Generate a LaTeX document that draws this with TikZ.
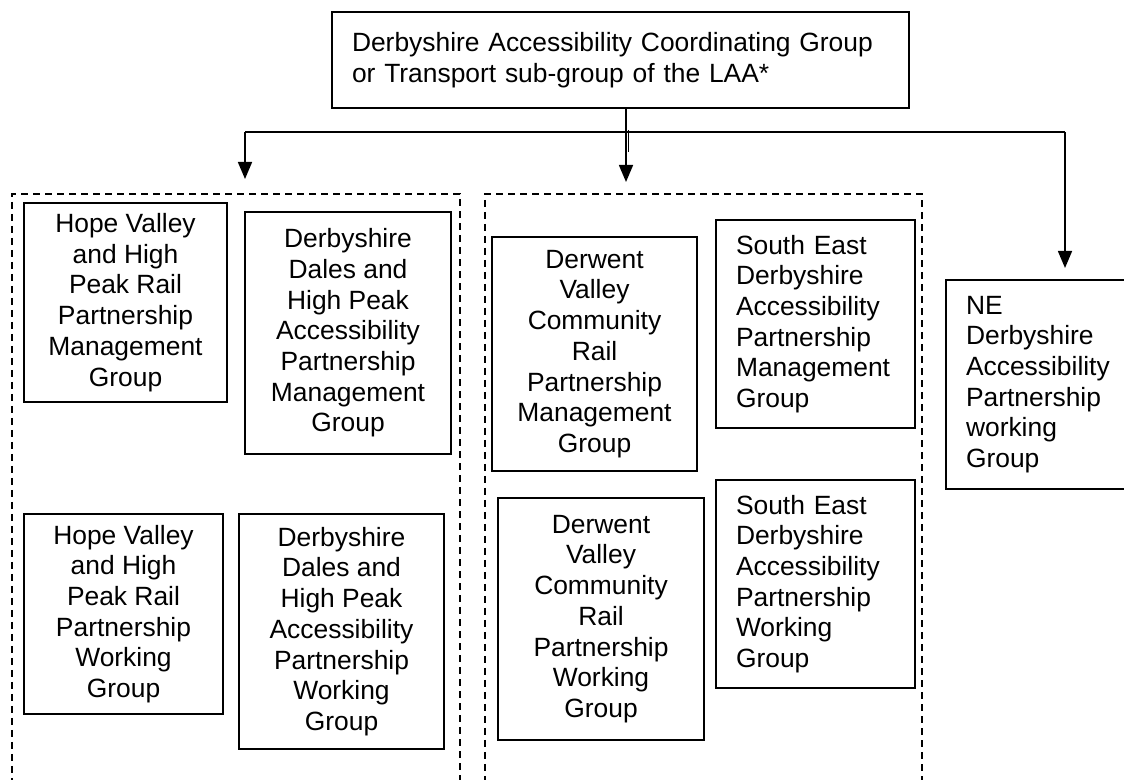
\documentclass[tikz,border=0pt]{standalone}
\usepackage{fontspec}
\setmainfont{Liberation Sans}
\usetikzlibrary{arrows.meta}

\tikzset{
  grp/.style 2 args={draw, dash pattern=on 3.6pt off 2.4pt, line width=0.9pt,
    anchor=north west, inner sep=0pt,
    minimum width=#1*0.5pt, minimum height=#2*0.5pt},
  unit/.style 2 args={draw, line width=1pt, anchor=north west, inner sep=0pt,
    minimum width=#1*0.5pt, minimum height=#2*0.5pt,
    align=center, font=\fontsize{13.2}{15.35}\selectfont},
  lunit/.style={align=left, text width=#1},
  link/.style={line width=0.8pt},
  tip/.style={-{Triangle[width=7pt,length=8.5pt]}}
}

\begin{document}
\begin{tikzpicture}[x=0.5pt,y=-0.5pt]
  \useasboundingbox (0,0) rectangle (1124,780);
  \clip (0,0) rectangle (1124,780);

  % dashed groupings
  \node (westgrp)  [grp={448}{620}] at (11,193) {};
  \node (southgrp) [grp={437}{620}] at (484,193) {};

  \node (dacg) [unit={577}{96}, lunit=268.5pt] at (331,11)
    {Derbyshire Accessibility Coordinating Group\\or Transport sub-group of the LAA*};

  % west group
  \node (hvmg) [unit={203}{199}] at (23,202)
    {Hope Valley\\and High\\Peak Rail\\Partnership\\Management\\Group};
  \node (ddmg) [unit={206}{242}] at (244,211)
    {Derbyshire\\Dales and\\High Peak\\Accessibility\\Partnership\\Management\\Group};
  \node (hvwg) [unit={199}{200}] at (23,513)
    {Hope Valley\\and High\\Peak Rail\\Partnership\\Working\\Group};
  \node (ddwg) [unit={205}{235}] at (238,513)
    {Derbyshire\\Dales and\\High Peak\\Accessibility\\Partnership\\Working\\Group};

  % south group
  \node (dvmg) [unit={205}{234}] at (491,236)
    {Derwent\\Valley\\Community\\Rail\\Partnership\\Management\\Group};
  \node (semg) [unit={199}{208}, lunit=79.5pt] at (715,219)
    {South East\\Derbyshire\\Accessibility\\Partnership\\Management\\Group};
  \node (dvwg) [unit={206}{242}] at (497,497)
    {Derwent\\Valley\\Community\\Rail\\Partnership\\Working\\Group};
  \node (sewg) [unit={199}{208}, lunit=79.5pt] at (715,479)
    {South East\\Derbyshire\\Accessibility\\Partnership\\Working\\Group};

  % north east
  \node (newg) [unit={238}{209}, lunit=99pt] at (945,279)
    {NE\\Derbyshire\\Accessibility\\Partnership\\working\\Group};

  % connectors
  \coordinate (bus)  at (0,132);
  \coordinate (wtip) at (245,179);
  \coordinate (stip) at (626,182);
  \coordinate (kink) at (628,130);
  \draw[link] (newg.north |- bus) -- (bus -| wtip);
  \draw[link, line width=0.5pt] (kink) -- ++(0,22);
  \path[link, tip]
    (bus -| wtip) edge (wtip)
    (dacg.south -| stip) edge (stip)
    (newg.north |- bus) edge [shorten >=5.5pt] (newg.north);
\end{tikzpicture}
\end{document}
